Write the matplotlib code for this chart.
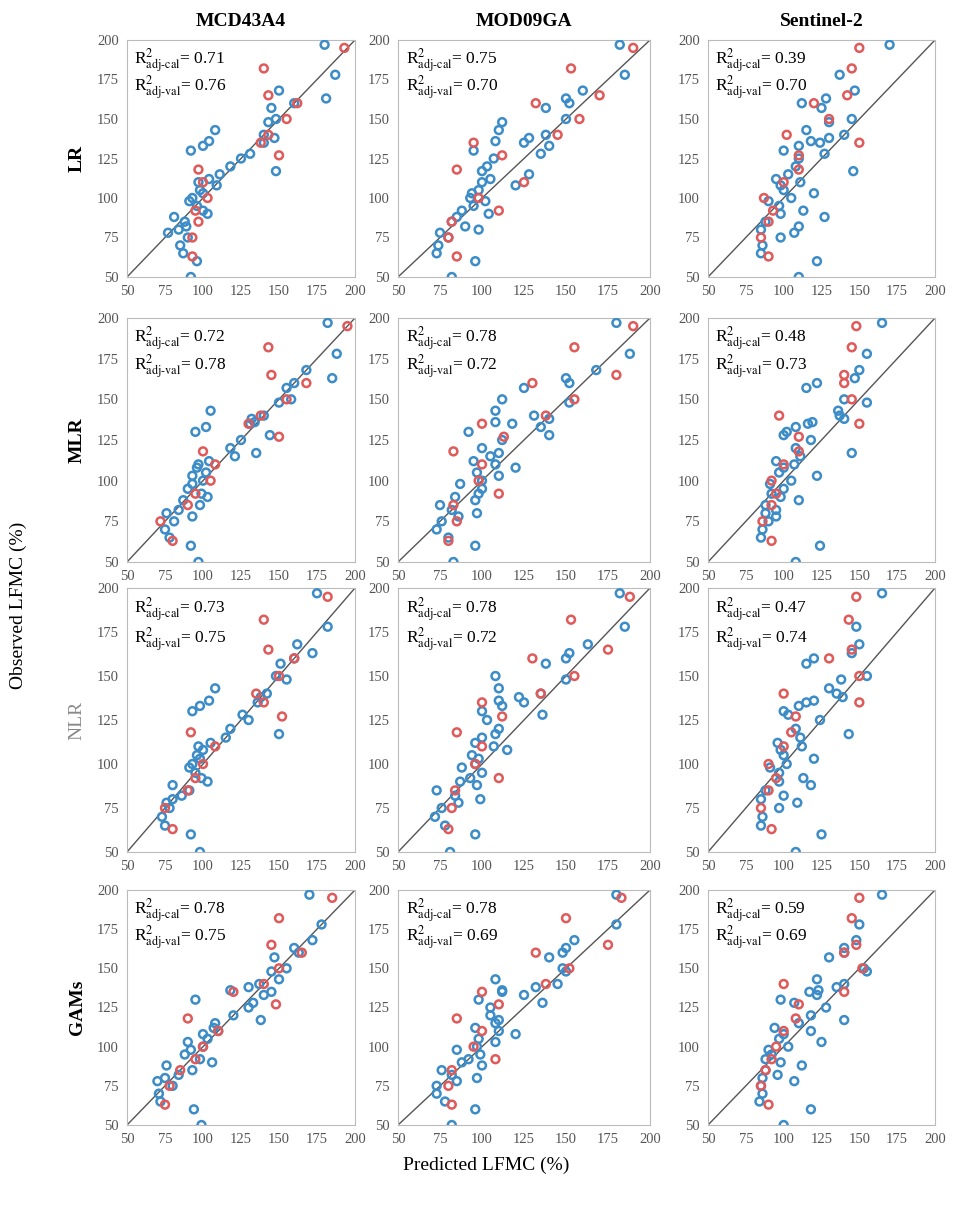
import matplotlib.pyplot as plt

plt.rcParams['font.family'] = ['Liberation Serif', 'DejaVu Serif']
plt.rcParams['mathtext.fontset'] = 'stix'

sensors = ["MCD43A4", "MOD09GA", "Sentinel-2"]
models = ["LR", "MLR", "NLR", "GAMs"]

# observed LFMC, shared by all panels
obs_cal = [197, 178, 168, 163, 160, 157, 150, 148, 143, 140, 138, 136, 135, 133, 130,
           128, 125, 120, 117, 115, 112, 110, 108, 105, 103, 100, 98, 95, 92, 90,
           88, 85, 82, 80, 78, 75, 70, 65, 60, 50]
obs_val = [195, 182, 165, 160, 150, 140, 135, 127, 118, 110, 100, 92, 85, 75, 63]

# predicted LFMC per panel (row = model, col = sensor)
pred_cal = {
    ("LR", "MCD43A4"): [180, 187, 150, 181, 160, 145, 148, 143, 108, 140, 147, 104, 140, 100, 92,
                        131, 125, 118, 148, 111, 104, 97, 109, 98, 100, 93, 91, 96, 100, 103,
                        81, 88, 89, 84, 77, 90, 85, 87, 96, 92],
    ("LR", "MOD09GA"): [182, 185, 160, 150, 152, 138, 150, 112, 110, 138, 128, 108, 125, 140, 95,
                        135, 107, 103, 100, 128, 105, 100, 120, 98, 94, 93, 102, 95, 88, 104,
                        85, 82, 90, 98, 75, 80, 74, 73, 96, 82],
    ("LR", "Sentinel-2"): [170, 137, 147, 128, 112, 125, 145, 130, 115, 140, 130, 118, 124, 110, 100,
                           127, 110, 108, 146, 103, 95, 111, 98, 100, 120, 105, 90, 97, 113, 98,
                           127, 88, 110, 85, 107, 98, 86, 85, 122, 110],
    ("MLR", "MCD43A4"): [182, 188, 168, 185, 160, 155, 158, 150, 105, 140, 132, 134, 131, 102, 95,
                         144, 125, 118, 135, 121, 104, 97, 96, 102, 93, 100, 93, 90, 99, 103,
                         87, 98, 84, 76, 93, 81, 75, 78, 92, 97],
    ("MLR", "MOD09GA"): [180, 188, 168, 150, 152, 125, 112, 152, 108, 131, 140, 108, 118, 135, 92,
                         140, 112, 100, 110, 105, 95, 108, 120, 97, 110, 100, 87, 100, 98, 84,
                         96, 75, 82, 97, 86, 76, 73, 80, 96, 83],
    ("MLR", "Sentinel-2"): [165, 155, 150, 147, 122, 115, 140, 155, 136, 137, 140, 119, 116, 108, 102,
                            100, 118, 108, 145, 111, 95, 107, 100, 97, 122, 105, 91, 100, 92, 98,
                            110, 88, 95, 88, 95, 90, 86, 85, 124, 108],
    ("NLR", "MCD43A4"): [175, 182, 162, 172, 160, 151, 148, 155, 108, 142, 138, 104, 136, 98, 93,
                         126, 130, 118, 150, 115, 105, 97, 100, 96, 98, 93, 91, 95, 99, 103,
                         80, 91, 86, 80, 76, 78, 73, 75, 92, 98],
    ("NLR", "MOD09GA"): [182, 185, 163, 152, 150, 138, 108, 150, 110, 135, 122, 110, 125, 112, 100,
                         136, 103, 110, 108, 100, 96, 107, 115, 94, 98, 96, 88, 100, 93, 87,
                         97, 73, 84, 99, 86, 76, 72, 78, 96, 81],
    ("NLR", "Sentinel-2"): [165, 148, 150, 145, 120, 115, 155, 138, 130, 135, 139, 120, 115, 110, 100,
                            103, 124, 108, 143, 111, 96, 112, 98, 100, 120, 102, 91, 97, 113, 97,
                            118, 88, 100, 85, 109, 97, 86, 85, 125, 108],
    ("GAMs", "MCD43A4"): [170, 178, 172, 160, 163, 147, 155, 145, 150, 137, 130, 118, 145, 140, 95,
                          133, 130, 120, 138, 108, 107, 110, 100, 103, 90, 100, 92, 88, 98, 106,
                          76, 93, 84, 75, 70, 80, 71, 72, 94, 99],
    ("GAMs", "MOD09GA"): [180, 180, 155, 150, 148, 140, 148, 150, 108, 145, 132, 112, 112, 125, 98,
                          136, 105, 105, 110, 108, 96, 110, 120, 98, 108, 97, 85, 99, 92, 88,
                          100, 76, 82, 97, 85, 73, 73, 78, 96, 82],
    ("GAMs", "Sentinel-2"): [165, 150, 148, 140, 140, 130, 153, 155, 122, 140, 135, 123, 117, 122, 98,
                             107, 128, 118, 140, 110, 94, 118, 100, 97, 125, 103, 90, 92, 88, 98,
                             112, 88, 96, 86, 107, 85, 86, 84, 118, 100],
}
pred_val = {
    ("LR", "MCD43A4"): [193, 140, 143, 162, 155, 143, 138, 150, 97, 100, 103, 95, 97, 93, 93],
    ("LR", "MOD09GA"): [190, 153, 170, 132, 158, 145, 95, 112, 85, 125, 98, 110, 82, 80, 85],
    ("LR", "Sentinel-2"): [150, 145, 142, 120, 130, 102, 150, 110, 110, 100, 87, 93, 90, 85, 90],
    ("MLR", "MCD43A4"): [195, 143, 145, 168, 155, 138, 130, 150, 100, 108, 105, 95, 90, 72, 80],
    ("MLR", "MOD09GA"): [190, 155, 180, 130, 155, 138, 100, 113, 83, 100, 98, 110, 83, 85, 80],
    ("MLR", "Sentinel-2"): [148, 145, 140, 140, 145, 97, 150, 110, 110, 100, 92, 95, 92, 86, 92],
    ("NLR", "MCD43A4"): [182, 140, 143, 160, 150, 135, 140, 152, 92, 108, 100, 95, 90, 75, 80],
    ("NLR", "MOD09GA"): [188, 153, 175, 130, 155, 135, 100, 112, 85, 100, 96, 110, 84, 82, 80],
    ("NLR", "Sentinel-2"): [148, 143, 145, 130, 150, 100, 150, 108, 105, 100, 90, 95, 90, 85, 92],
    ("GAMs", "MCD43A4"): [185, 150, 145, 165, 150, 140, 120, 148, 90, 110, 100, 95, 85, 78, 75],
    ("GAMs", "MOD09GA"): [183, 150, 175, 132, 152, 138, 100, 110, 85, 100, 95, 108, 82, 80, 82],
    ("GAMs", "Sentinel-2"): [150, 145, 148, 140, 152, 100, 140, 110, 108, 100, 95, 92, 88, 85, 90],
}

r2_cal = {
    "LR": [0.71, 0.75, 0.39],
    "MLR": [0.72, 0.78, 0.48],
    "NLR": [0.73, 0.78, 0.47],
    "GAMs": [0.78, 0.78, 0.59],
}
r2_val = {
    "LR": [0.76, 0.70, 0.70],
    "MLR": [0.78, 0.72, 0.73],
    "NLR": [0.75, 0.72, 0.74],
    "GAMs": [0.75, 0.69, 0.69],
}

W, H = 972, 1211
fig = plt.figure(figsize=(W / 100, H / 100), dpi=100)

col_px = [(127, 355), (398, 650), (708, 935)]
row_px = [(40, 277), (318, 562), (588, 852), (890, 1125)]

blue = "#3c8cc8"
red = "#e05a5a"
ticks = [50, 75, 100, 125, 150, 175, 200]

for i, m in enumerate(models):
    for j, s in enumerate(sensors):
        x0, x1 = col_px[j]
        y0, y1 = row_px[i]
        ax = fig.add_axes([x0 / W, 1 - y1 / H, (x1 - x0) / W, (y1 - y0) / H])
        ax.plot([50, 200], [50, 200], color="#555555", lw=1)
        ax.scatter(pred_cal[(m, s)], obs_cal, s=32, facecolors="none",
                   edgecolors=blue, linewidths=1.8, zorder=3)
        ax.scatter(pred_val[(m, s)], obs_val, s=32, facecolors="none",
                   edgecolors=red, linewidths=1.8, zorder=3)
        ax.set_xlim(50, 200)
        ax.set_ylim(50, 200)
        ax.set_xticks(ticks)
        ax.set_yticks(ticks)
        ax.tick_params(labelsize=10.5, length=0, colors="#555555", pad=6)
        for sp in ax.spines.values():
            sp.set_color("#bbbbbb")
        ax.text(0.03, 0.97, r"R$^2_{\rm adj\text{-}cal}$= %.2f" % r2_cal[m][j],
                transform=ax.transAxes, va="top", fontsize=12.5)
        ax.text(0.03, 0.855, r"R$^2_{\rm adj\text{-}val}$= %.2f" % r2_val[m][j],
                transform=ax.transAxes, va="top", fontsize=12.5)
        if i == 0:
            ax.set_title(s, fontsize=14, fontweight="bold", pad=10)
        if j == 0:
            if m == "NLR":
                ax.set_ylabel(m, fontsize=14, color="#888888", labelpad=8)
            else:
                ax.set_ylabel(m, fontsize=14, fontweight="bold", labelpad=8)

fig.text(18 / W, 0.5, "Observed LFMC (%)", rotation=90, va="center", ha="center", fontsize=14)
fig.text(0.5, 1 - 1165 / H, "Predicted LFMC (%)", ha="center", va="center", fontsize=14)

fig.savefig("out.png", dpi=100)
